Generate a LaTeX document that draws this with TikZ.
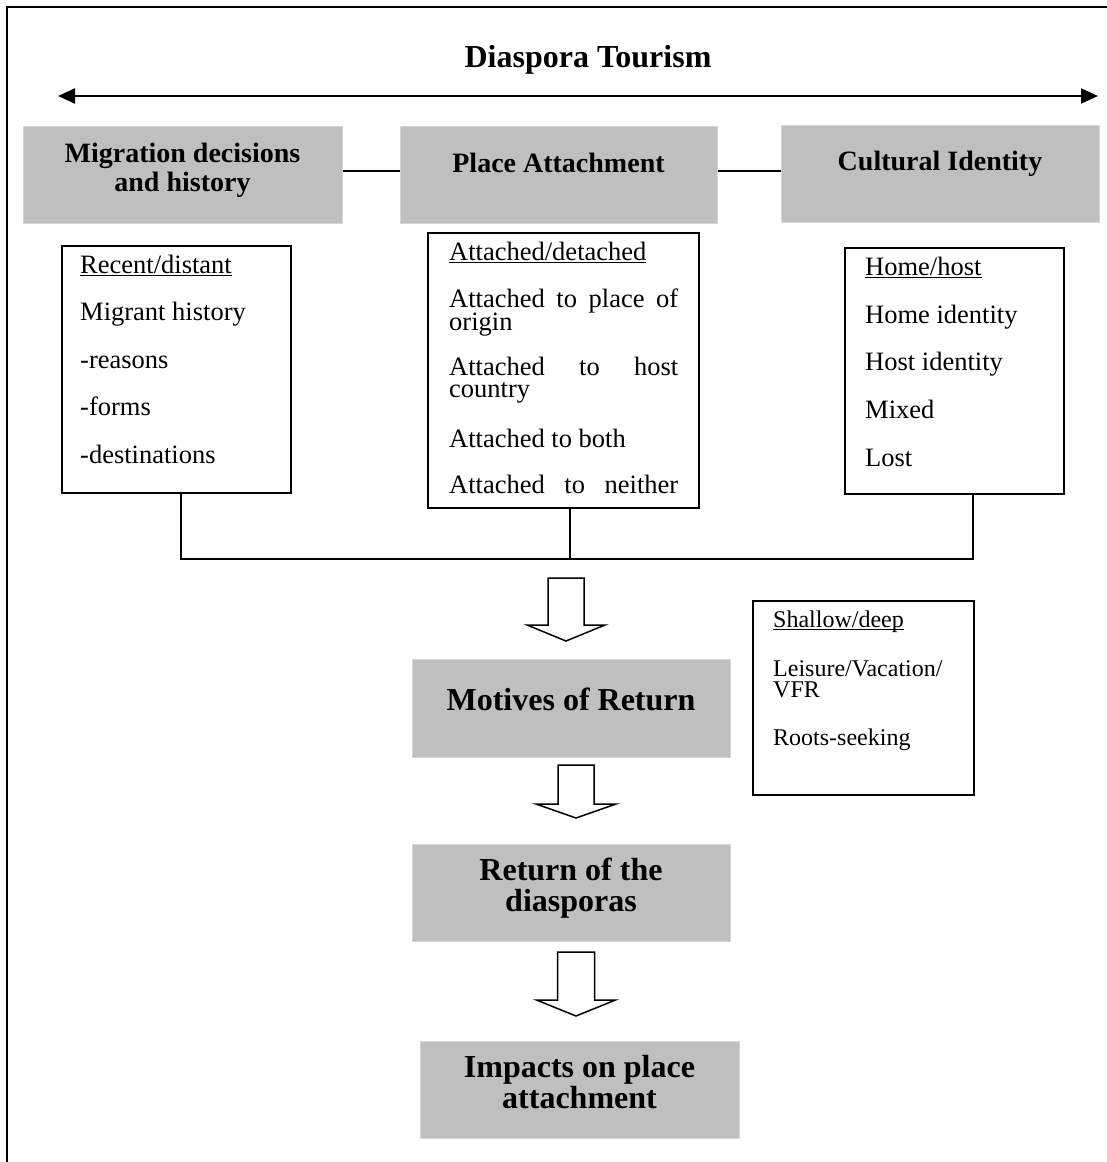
\documentclass[tikz,border=0pt]{standalone}
\usepackage{fontspec}
\setmainfont{Liberation Serif}
\usetikzlibrary{arrows.meta}

% underline drawn as a rule that may cross descenders
\newsavebox\ulbox
\newcommand\ulx[1]{\sbox\ulbox{#1}\rlap{\rule[-3pt]{\wd\ulbox}{1.4pt}}\usebox\ulbox}

% hollow block arrow pointing down: x, top y, shaft half width, head y, head half width, tip y
\newcommand\hollowdown[6]{%
  \draw[blockarrow] ({#1-#3},#2) -- ({#1+#3},#2) -- ({#1+#3},#4) -- ({#1+#5},#4)
    -- (#1,#6) -- ({#1-#5},#4) -- ({#1-#3},#4) -- cycle;}

\tikzset{
  greybox/.style={draw=black!16, fill=black!25, line width=1pt, inner sep=0pt, anchor=north west},
  listbox/.style={draw=black, fill=white, line width=1.6pt, inner sep=0pt, anchor=north west},
  head/.style={anchor=base, inner sep=0pt, font=\fontsize{28}{30}\selectfont\bfseries},
  bighead/.style={anchor=base, inner sep=0pt, font=\fontsize{32}{34}\selectfont\bfseries},
  item/.style={anchor=base west, inner sep=0pt, font=\fontsize{26.5}{30}\selectfont},
  smallitem/.style={anchor=base west, inner sep=0pt, font=\fontsize{24}{26}\selectfont},
  conn/.style={draw=black, line width=1.4pt},
  blockarrow/.style={draw=black, fill=white, line width=1.5pt, line join=miter},
}

\begin{document}
\begin{tikzpicture}[x=1pt, y=-1pt]
\useasboundingbox (0,0) rectangle (1107,1162);

% frame
\draw[line width=2pt] (6.5,1175) -- (6.5,6.5) -- (1120,6.5);

% title and double arrow
\node[bighead] (title) at (588,67) {Diaspora Tourism};
\coordinate (arrL) at (58,96);
\coordinate (arrR) at (1098,96);
\draw[line width=2pt, {Triangle[length=17pt,width=15pt]}-{Triangle[length=17pt,width=15pt]}] (arrL) -- (arrR);

% top grey boxes
\node[greybox, minimum width=319pt, minimum height=97pt] (mig) at (23,126) {};
\node[greybox, minimum width=317pt, minimum height=97pt] (place) at (400,126) {};
\node[greybox, minimum width=318pt, minimum height=97pt] (cult) at (781,125) {};
\node[head] (migA) at (182.5,162) {Migration decisions};
\node[head] (migB) at (182.5,191) {and history};
\node[head] (placeT) at (558.5,172) {Place Attachment};
\node[head] (cultT) at (940,170) {Cultural Identity};

\coordinate (lnk) at (0,171);
\draw[conn] (mig.east |- lnk) -- (place.west |- lnk);
\draw[conn] (place.east |- lnk) -- (cult.west |- lnk);

% list boxes
\node[listbox, minimum width=229pt, minimum height=247pt] (left) at (61,245) {};
\node[listbox, minimum width=271pt, minimum height=275pt] (mid) at (427,232) {};
\node[listbox, minimum width=219pt, minimum height=246pt] (right) at (844,247) {};

\node[item] (l1) at (80,273) {\ulx{Recent/distant}};
\node[item] (l2) at (80,320.5) {Migrant history};
\node[item] (l3) at (80,368) {-reasons};
\node[item] (l4) at (80,415.5) {-forms};
\node[item] (l5) at (80,463) {-destinations};

\node[item] (m1) at (449,260) {\ulx{Attached/detached}};
\node[item] (m2) at (449,307) {\makebox[229pt][s]{Attached\hfill to\hfill place\hfill of}};
\node[item] (m3) at (449,330) {origin};
\node[item] (m4) at (449,375) {\makebox[229pt][s]{Attached\hfill to\hfill host}};
\node[item] (m5) at (449,397) {country};
\node[item] (m6) at (449,447) {Attached to both};
\node[item] (m7) at (449,493) {\makebox[229pt][s]{Attached\hfill to\hfill neither}};

\node[item] (r1) at (865,275) {\ulx{Home/host}};
\node[item] (r2) at (865,323) {Home identity};
\node[item] (r3) at (865,370.5) {Host identity};
\node[item] (r4) at (865,418) {Mixed};
\node[item] (r5) at (865,466.5) {Lost};

% joining bus under the list boxes
\coordinate (busL) at (181,559);
\coordinate (busM) at (570,559);
\coordinate (busR) at (973,559);
\draw[conn] (left.south -| busL) -- (busL) -- (busR) -- (right.south -| busR);
\draw[conn] (mid.south -| busM) -- (busM);

% lower chain
\hollowdown{566}{578}{18}{625}{39}{641}
\node[greybox, minimum width=318pt, minimum height=98pt] (motives) at (412,659) {};
\node[bighead] (motT) at (571,710) {Motives of Return};

\hollowdown{576}{765}{18}{804}{40}{818}
\node[greybox, minimum width=318pt, minimum height=97pt] (ret) at (412,844) {};
\node[bighead] (retA) at (571,880) {Return of the};
\node[bighead] (retB) at (571,911) {diasporas};

\hollowdown{576}{952}{18.5}{1000}{39.5}{1016}
\node[greybox, minimum width=319pt, minimum height=97pt] (imp) at (420,1041) {};
\node[bighead] (impA) at (579.5,1077) {Impacts on place};
\node[bighead] (impB) at (579.5,1108) {attachment};

% motives side box
\node[listbox, minimum width=221pt, minimum height=194pt] (shallow) at (752,600) {};
\node[smallitem] (s1) at (773,627) {\ulx{Shallow/deep}};
\node[smallitem] (s2) at (773,676) {Leisure/Vacation/};
\node[smallitem] (s3) at (773,697) {VFR};
\node[smallitem] (s4) at (773,745) {Roots-seeking};
\end{tikzpicture}
\end{document}
